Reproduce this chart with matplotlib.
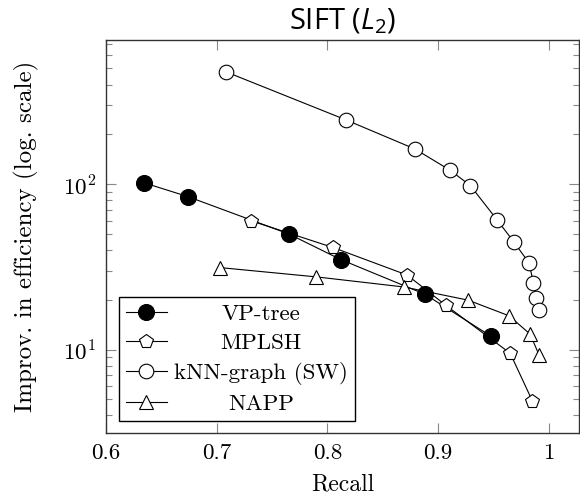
import matplotlib
matplotlib.use("Agg")
import matplotlib.pyplot as plt

plt.rcParams['font.family'] = 'serif'
plt.rcParams['font.serif'] = ['cmr10']
plt.rcParams['mathtext.fontset'] = 'cm'
plt.rcParams['axes.formatter.use_mathtext'] = True
plt.rcParams['axes.unicode_minus'] = False
# the title uses the "custom" math fonts
plt.rcParams['mathtext.rm'] = 'Open Sans'
plt.rcParams['mathtext.it'] = 'Open Sans:italic'

# values
vp_recall = [0.634, 0.674, 0.765, 0.812, 0.888, 0.948]
vp_gain = [102, 84, 50, 35, 21.6, 12.0]

mplsh_recall = [0.731, 0.805, 0.872, 0.907, 0.965, 0.985]
mplsh_gain = [60, 41.4, 28.2, 18.5, 9.5, 4.9]

knn_recall = [0.708, 0.817, 0.879, 0.911, 0.929, 0.953, 0.968, 0.982, 0.986, 0.988, 0.991]
knn_gain = [478, 244, 163, 121, 98, 61, 45, 33.4, 25.3, 20.5, 17.3]

napp_recall = [0.703, 0.790, 0.869, 0.927, 0.964, 0.983, 0.991]
napp_gain = [31.3, 27.5, 23.9, 19.9, 16.0, 12.4, 9.3]

fs = 16.6
fig = plt.figure(figsize=(5.8, 4.97), dpi=100)
ax = fig.add_axes([0.1828, 0.1282, 0.8152, 0.7913])

line_kw = dict(color='black', linewidth=0.8, markeredgewidth=0.8)
ax.plot(vp_recall, vp_gain, marker='o', markersize=11.5, markerfacecolor='black',
        markeredgecolor='black', label='VP-tree', **line_kw)
ax.plot(mplsh_recall, mplsh_gain, marker='p', markersize=10.5, markerfacecolor='white',
        markeredgecolor='black', label='MPLSH', **line_kw)
ax.plot(knn_recall, knn_gain, marker='o', markersize=10.5, markerfacecolor='white',
        markeredgecolor='black', label='kNN-graph (SW)', **line_kw)
ax.plot(napp_recall, napp_gain, marker='^', markersize=10, markerfacecolor='white',
        markeredgecolor='black', label='NAPP', **line_kw)

ax.set_yscale('log')
ax.set_xlim(0.6, 1.027)
ax.set_ylim(3.12, 743)
ax.set_xticks([0.6, 0.7, 0.8, 0.9, 1.0])
ax.set_xticklabels(['0.6', '0.7', '0.8', '0.9', '1'])

for s in ax.spines.values():
    s.set_color('#333333')
    s.set_linewidth(1.0)
ax.tick_params(which='both', direction='in', top=True, right=True, color='#888888',
               labelsize=fs, pad=7)
ax.tick_params(which='major', length=7, width=0.8)
ax.tick_params(which='minor', length=4, width=0.8)
ax.tick_params(axis='x', which='minor', top=False, bottom=False)

ax.set_xlabel('Recall', fontsize=17, labelpad=8)
ax.set_ylabel('Improv. in efficiency (log. scale)', fontsize=18, labelpad=17)
ax.set_title(r'SIFT ($L_2$)', fontsize=21, family='Open Sans', math_fontfamily='custom', pad=8)

leg = ax.legend(loc='lower left', fontsize=fs, frameon=True, fancybox=False,
                edgecolor='black', framealpha=1, borderaxespad=0.55,
                handlelength=1.8, handletextpad=0.3, labelspacing=0.38,
                borderpad=0.3)
leg.get_frame().set_linewidth(1.0)

# center the label texts in the legend column
fig.canvas.draw()
renderer = fig.canvas.get_renderer()
dpicor = renderer.points_to_pixels(1.0)
for col in leg._legend_handle_box.get_children():
    rows = col.get_children()
    widths = [r.get_children()[1].get_bbox(renderer).width for r in rows]
    wmax = max(widths)
    for r, w in zip(rows, widths):
        r.sep += (wmax - w) / 2 / dpicor

fig.savefig('out.png', dpi=100)
